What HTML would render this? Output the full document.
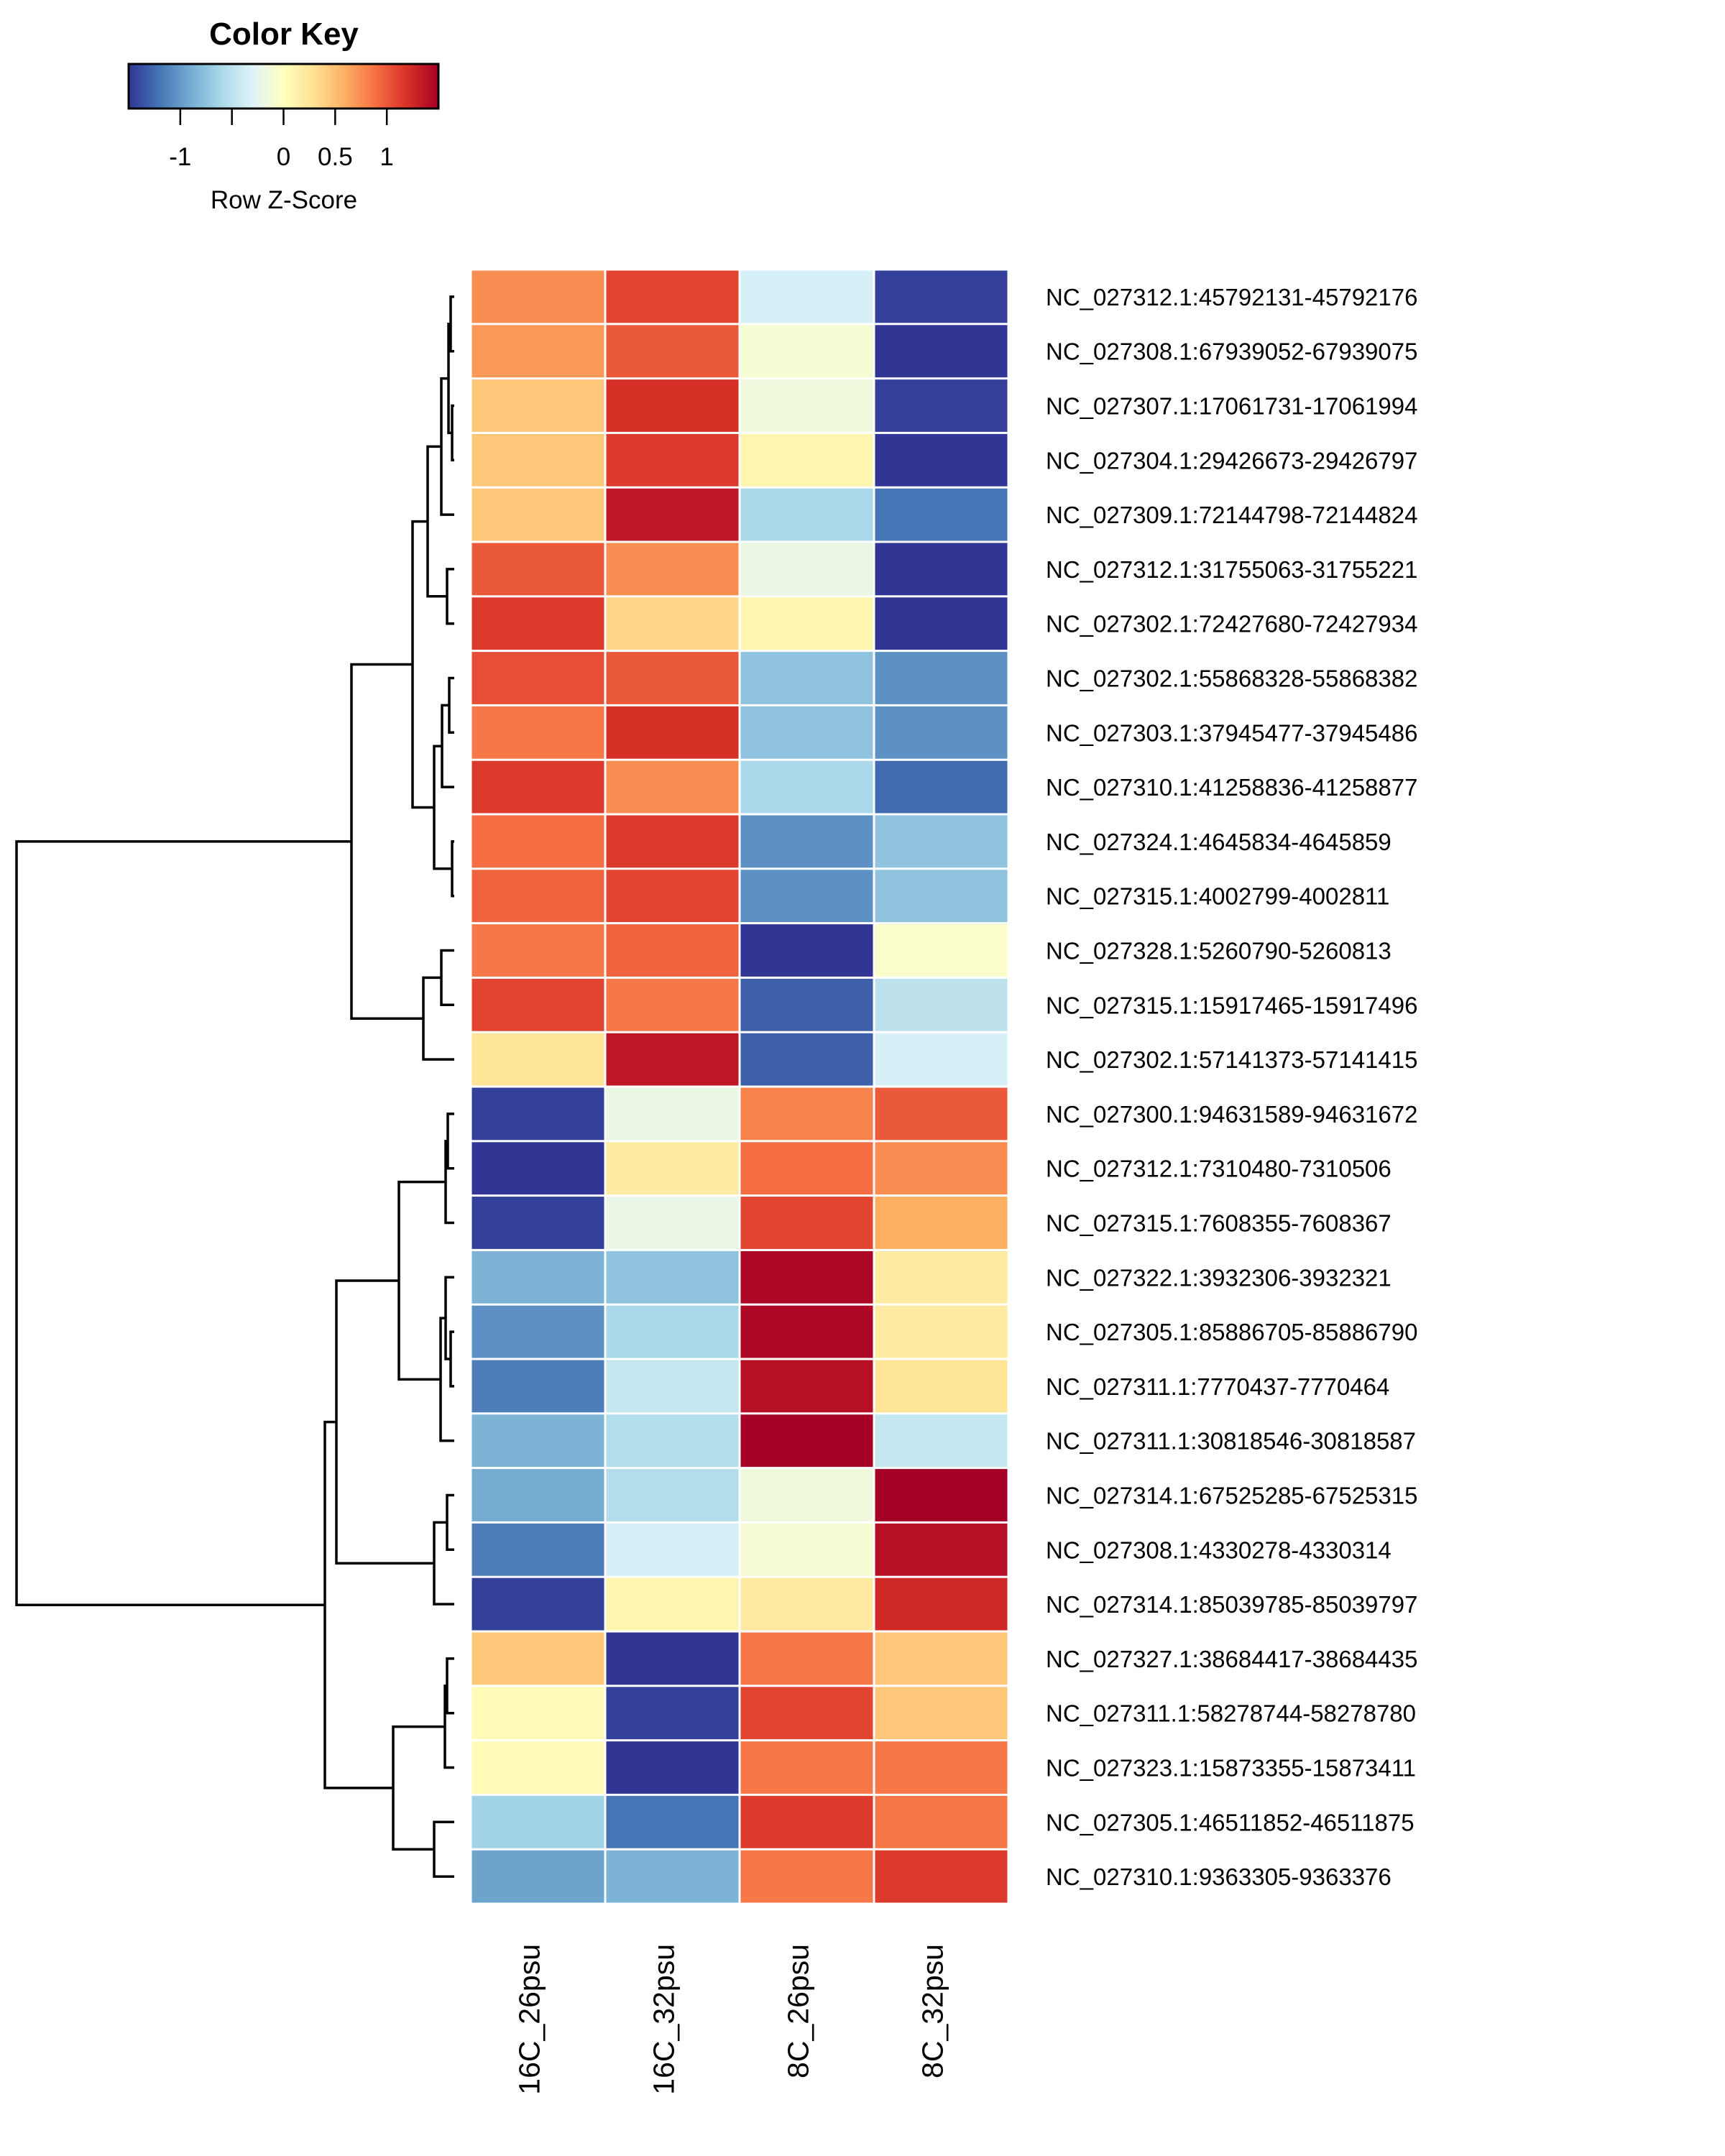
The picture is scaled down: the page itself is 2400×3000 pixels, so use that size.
<!DOCTYPE html>
<html><head><meta charset="utf-8"><style>html,body{margin:0;padding:0;background:#fff}svg{display:block}text{font-family:"Liberation Sans",Arial,sans-serif;fill:#000}</style></head>
<body>
<svg id="chart" width="2400" height="3000" viewBox="0 0 2400 3000" xmlns="http://www.w3.org/2000/svg">
<defs><linearGradient id="kg" x1="0" x2="1" y1="0" y2="0"></linearGradient></defs>
<g id="key">
<text x="395" y="62" font-size="44" font-weight="bold" text-anchor="middle">Color Key</text>
<rect x="179" y="89" width="431" height="62" fill="url(#kg)" stroke="#000" stroke-width="3"/>
<g id="keyticks"></g>
<text x="395" y="290" font-size="35" text-anchor="middle">Row Z-Score</text>
</g>
<g id="cells"></g>
<g id="dendro"></g>
<g id="rowlabels"></g>
<g id="collabels"></g>
</svg>
<script>
const columns = ["16C_26psu","16C_32psu","8C_26psu","8C_32psu"];
const rows = ["NC_027312.1:45792131-45792176","NC_027308.1:67939052-67939075","NC_027307.1:17061731-17061994","NC_027304.1:29426673-29426797","NC_027309.1:72144798-72144824","NC_027312.1:31755063-31755221","NC_027302.1:72427680-72427934","NC_027302.1:55868328-55868382","NC_027303.1:37945477-37945486","NC_027310.1:41258836-41258877","NC_027324.1:4645834-4645859","NC_027315.1:4002799-4002811","NC_027328.1:5260790-5260813","NC_027315.1:15917465-15917496","NC_027302.1:57141373-57141415","NC_027300.1:94631589-94631672","NC_027312.1:7310480-7310506","NC_027315.1:7608355-7608367","NC_027322.1:3932306-3932321","NC_027305.1:85886705-85886790","NC_027311.1:7770437-7770464","NC_027311.1:30818546-30818587","NC_027314.1:67525285-67525315","NC_027308.1:4330278-4330314","NC_027314.1:85039785-85039797","NC_027327.1:38684417-38684435","NC_027311.1:58278744-58278780","NC_027323.1:15873355-15873411","NC_027305.1:46511852-46511875","NC_027310.1:9363305-9363376"];
const zscores = [
[0.75,1.1,-0.35,-1.45],[0.7,1.0,-0.1,-1.5],[0.45,1.2,-0.15,-1.45],[0.45,1.15,0.1,-1.5],[0.45,1.35,-0.6,-1.2],
[1.0,0.75,-0.2,-1.5],[1.15,0.35,0.1,-1.5],[1.05,1.0,-0.75,-1.05],[0.85,1.2,-0.75,-1.05],[1.15,0.75,-0.6,-1.25],
[0.9,1.15,-1.05,-0.75],[0.95,1.1,-1.05,-0.75],[0.85,0.95,-1.5,-0.05],[1.1,0.85,-1.3,-0.5],[0.25,1.35,-1.3,-0.35],
[-1.45,-0.2,0.8,1.0],[-1.5,0.2,0.9,0.75],[-1.45,-0.2,1.1,0.6],[-0.85,-0.75,1.45,0.2],[-1.05,-0.6,1.45,0.2],
[-1.15,-0.45,1.4,0.25],[-0.85,-0.55,1.5,-0.45],[-0.9,-0.55,-0.15,1.5],[-1.15,-0.35,-0.1,1.4],[-1.45,0.1,0.2,1.25],
[0.45,-1.5,0.85,0.45],[0.05,-1.45,1.1,0.45],[0.05,-1.5,0.85,0.85],[-0.65,-1.2,1.15,0.85],[-0.95,-0.85,0.85,1.15]];
const keyTicks = [-1,-0.5,0,0.5,1];
const keyTickLabels = ["-1","","0","0.5","1"];
const merges = [
[0,1,627],[2,3,629],["n0","n1",624],["n2",4,614],[5,6,622],["n3","n4",595],
[7,8,625],["n6",9,615],[10,11,629],["n7","n8",604],["n5","n9",574],
[12,13,614],["n11",14,589],["n10","n12",489],
[15,16,623],["n14",17,620],[19,20,627],[18,"n16",620],["n17",21,613],["n15","n18",555],
[22,23,622],["n20",24,604],["n19","n21",468],
[25,26,622],["n23",27,619],[28,29,604],["n24","n25",547],["n22","n26",452],
["n13","n27",23]];

const NS="http://www.w3.org/2000/svg";
const pal=["#313695","#4575b4","#74add1","#abd9e9","#e0f3f8","#ffffbf","#fee090","#fdae61","#f46d43","#d73027","#a50026"];
const zMin=-1.5,zMax=1.5;
function hex(c){return [1,3,5].map(i=>parseInt(c.substr(i,2),16));}
function color(v){let t=(Math.max(zMin,Math.min(zMax,v))-zMin)/(zMax-zMin)*(pal.length-1);let i=Math.min(Math.floor(t),pal.length-2),f=t-i;const a=hex(pal[i]),b=hex(pal[i+1]);return "rgb("+a.map((x,k)=>Math.round(x+(b[k]-x)*f)).join(",")+")";}
const heatL=655,heatR=1403,heatT=375,heatB=2649;
const cw=(heatR-heatL)/columns.length, rh=(heatB-heatT)/rows.length;
const xCol=j=>heatL+j*cw, yRow=i=>heatT+i*rh;
const keyL=179,keyR=610;
const xKey=v=>keyL+(v-zMin)/(zMax-zMin)*(keyR-keyL);
function el(tag,attrs,parent){const e=document.createElementNS(NS,tag);for(const k in attrs)e.setAttribute(k,attrs[k]);parent.appendChild(e);return e;}

const grad=document.getElementById('kg');
for(let k=0;k<=30;k++){const v=zMin+k/30*(zMax-zMin);el('stop',{offset:(k/30*100)+'%','stop-color':color(v)},grad);}
const kt=document.getElementById('keyticks');
keyTicks.forEach((v,i)=>{
 const l=el('line',{x1:xKey(v),x2:xKey(v),y1:151,y2:174,stroke:'#000','stroke-width':2.5},kt);
 
 
 if(keyTickLabels[i]){const t=el('text',{x:xKey(v),y:230,'font-size':35,'text-anchor':'middle'},kt);t.textContent=keyTickLabels[i];
 
 }
});

const cells=document.getElementById('cells');
zscores.forEach((r,i)=>r.forEach((v,j)=>{
 const c=el('rect',{x:xCol(j)+1.5,y:yRow(i)+1.5,width:cw-3,height:rh-3,fill:color(v)},cells);
 
 
}));
const rl=document.getElementById('rowlabels');
rows.forEach((n,i)=>{const t=el('text',{x:1455,y:yRow(i)+rh/2+12,'font-size':33},rl);t.textContent=n;
 
 });
const cl=document.getElementById('collabels');
columns.forEach((n,j)=>{const cx=xCol(j)+cw/2+2;const t=el('text',{x:cx,y:2705,'font-size':41,'text-anchor':'end',transform:'rotate(-90 '+cx+' 2705)'},cl);t.textContent=n;
 
 });

const dg=document.getElementById('dendro');
const leafX=632;
const nodes=[];
function pos(c){return typeof c==='number'?{x:leafX,y:yRow(c)+rh/2}:nodes[+c.slice(1)];}
merges.forEach(m=>{
 const a=pos(m[0]),b=pos(m[1]),h=m[2];
 const p=el('path',{d:`M${a.x},${a.y}H${h}V${b.y}H${b.x}`,fill:'none',stroke:'#000','stroke-width':3.5},dg);
 
 
 nodes.push({x:h,y:(a.y+b.y)/2});
});
</script>
</body></html>
